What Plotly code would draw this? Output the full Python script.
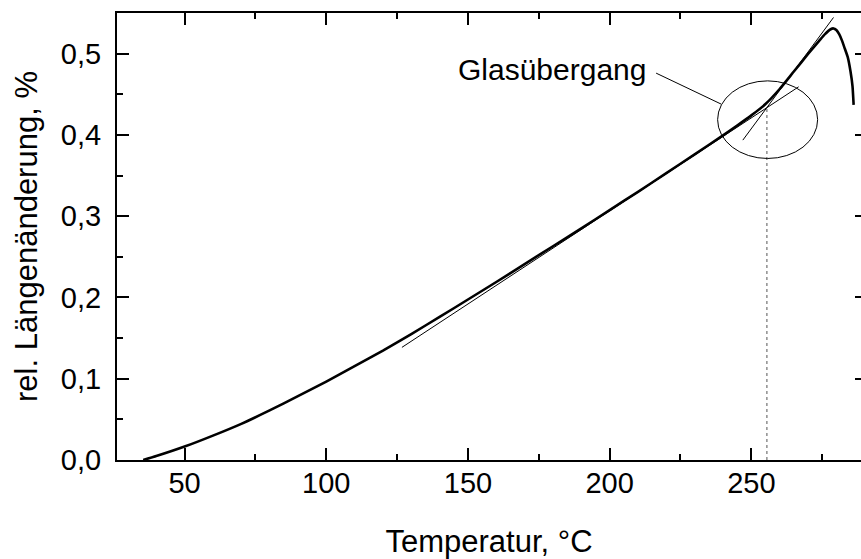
import plotly.graph_objects as go

# --- data ---
temp = [35.4, 40, 50, 60, 70, 80, 90, 100, 110, 120, 130, 140, 150, 160, 170, 180,
        190, 200, 210, 220, 230, 240, 245, 250, 255, 260, 265, 270, 274, 276, 278,
        279, 280, 281, 282, 283, 284, 285, 285.7, 286.1]
dl = [0.0, 0.0048, 0.0165, 0.0300, 0.0445, 0.0610, 0.0785, 0.0965, 0.1155, 0.1345,
      0.1550, 0.1760, 0.1975, 0.2190, 0.2410, 0.2630, 0.2850, 0.3075, 0.3300,
      0.3530, 0.3760, 0.3995, 0.4115, 0.4240, 0.4380, 0.4565, 0.4780, 0.4995,
      0.5160, 0.5240, 0.5300, 0.5310, 0.5290, 0.5240, 0.5160, 0.5060, 0.4960,
      0.4780, 0.4600, 0.4370]

tan_low_x = [126.7, 266.7]
tan_low_y = [0.1386, 0.4592]
tan_high_x = [247.0, 279.0]
tan_high_y = [0.3936, 0.5445]

tg_x = [255.5, 255.5]
tg_y = [0.0, 0.4334]

ellipse_x = [238.1, 273.4]
ellipse_y = [0.371, 0.4665]

leader_x = [216.4, 239.3]
leader_y = [0.4760, 0.4380]
label_text = "Glasübergang"
label_pos = [145.9, 0.4810]

x_ticks = [50, 100, 150, 200, 250]
y_ticks = [0.0, 0.1, 0.2, 0.3, 0.4, 0.5]

FONT = "Arial, Liberation Sans, sans-serif"

fig = go.Figure()
fig.add_trace(go.Scatter(x=tg_x, y=tg_y, mode="lines",
                         line=dict(color="#555555", width=1, dash="dot"),
                         hoverinfo="skip"))
fig.add_trace(go.Scatter(x=tan_low_x, y=tan_low_y, mode="lines",
                         line=dict(color="black", width=1)))
fig.add_trace(go.Scatter(x=tan_high_x, y=tan_high_y, mode="lines",
                         line=dict(color="black", width=1)))
fig.add_trace(go.Scatter(x=leader_x, y=leader_y, mode="lines",
                         line=dict(color="black", width=1)))
fig.add_trace(go.Scatter(x=temp, y=dl, mode="lines",
                         line=dict(color="black", width=2.6, shape="spline", smoothing=0.5)))
fig.add_trace(go.Scatter(x=[], y=[], yaxis="y2"))

fig.add_shape(type="circle", xref="x", yref="y",
              x0=ellipse_x[0], x1=ellipse_x[1], y0=ellipse_y[0], y1=ellipse_y[1],
              line=dict(color="black", width=1))

fig.add_annotation(x=label_pos[0], y=label_pos[1], text=label_text, showarrow=False,
                   xanchor="left", yanchor="middle",
                   font=dict(family=FONT, size=30, color="black"))

fig.update_layout(
    width=861, height=559,
    margin=dict(l=117, r=0, t=13, b=99),
    paper_bgcolor="white", plot_bgcolor="white",
    showlegend=False,
    separators=",.",
    font=dict(family=FONT, color="black"),
    xaxis=dict(
        range=[26.15, 288.7], tickvals=x_ticks,
        ticks="inside", ticklen=12, tickwidth=2, tickcolor="black",
        minor=dict(dtick=25, tick0=0, ticks="inside", ticklen=6, tickwidth=2, tickcolor="black"),
        showline=True, linewidth=2, linecolor="black", mirror="ticks",
        showgrid=False, zeroline=False,
        ticklabelstandoff=-4,
        tickfont=dict(size=29, family=FONT),
        title=dict(text="Temperatur, °C", font=dict(size=31, family=FONT), standoff=33),
    ),
    yaxis=dict(
        range=[0, 0.55], tickvals=y_ticks, tickformat=".1f",
        ticks="inside", ticklen=12, tickwidth=2, tickcolor="black",
        minor=dict(dtick=0.05, tick0=0, ticks="inside", ticklen=6, tickwidth=2, tickcolor="black"),
        showline=True, linewidth=2, linecolor="black", mirror=False,
        showgrid=False, zeroline=False,
        ticklabelstandoff=8,
        tickfont=dict(size=29, family=FONT),
        title=dict(text="rel. Längenänderung, %", font=dict(size=31, family=FONT), standoff=14),
    ),
    yaxis2=dict(
        range=[0, 0.55], tickvals=y_ticks, overlaying="y", side="right", anchor="x",
        ticks="inside", ticklen=6, tickwidth=2, tickcolor="black",
        showticklabels=False, showline=False, showgrid=False, zeroline=False,
    ),
)

fig.write_html("out.html")
